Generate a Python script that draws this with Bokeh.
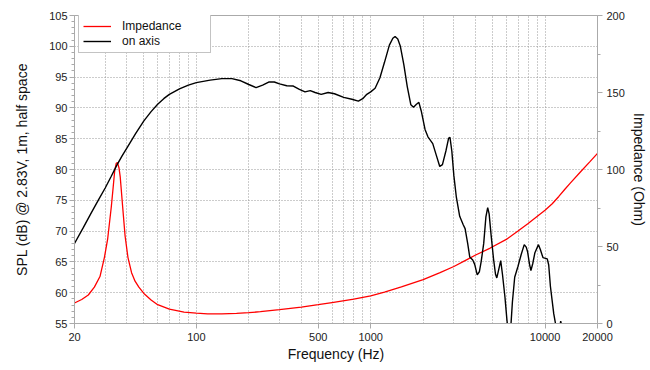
from bokeh.plotting import figure
from bokeh.models import (Range1d, LinearAxis, FixedTicker, SingleIntervalTicker,
                          BasicTickFormatter, Legend, LegendItem)
from bokeh.embed import file_html
from bokeh.resources import INLINE

# ---- data ----
spl_freq = [20, 22.5, 25, 27.5, 30, 32.5, 35, 37.5, 40, 45, 50, 55, 60, 65, 70, 80, 90, 100,
            120, 140, 160, 180, 200, 220, 240, 260, 280, 300, 330, 360, 390, 420, 450, 480,
            520, 570, 620, 700, 780, 850, 900, 950, 1000, 1060, 1130, 1200, 1280, 1340, 1380,
            1430, 1480, 1550, 1620, 1700, 1760, 1830, 1890, 1950, 2050, 2130, 2270, 2380, 2490,
            2580, 2700, 2800, 2850, 2920, 3000, 3100, 3240, 3400, 3480, 3600, 3700, 3850, 3950,
            4085, 4200, 4300, 4450, 4580, 4690, 4780, 4900, 5065, 5200, 5290, 5400, 5570, 5700,
            5890, 6050, 6200, 6350, 6500, 6700, 7000, 7300, 7600, 7800, 7950, 8150, 8300, 8500,
            8750, 9170, 9400, 9730, 10300, 10500, 10740, 11220, 11600, 12000, 12300, 12500, 12800]
spl_db = [68.0, 70.6, 73.0, 75.1, 77.0, 78.9, 80.7, 82.2, 83.5, 85.9, 87.9, 89.4, 90.6, 91.5,
          92.2, 93.1, 93.7, 94.1, 94.5, 94.75, 94.75, 94.4, 93.8, 93.3, 93.7, 94.2, 94.2, 93.9,
          93.6, 93.55, 93.0, 92.6, 92.8, 92.5, 92.2, 92.5, 92.3, 91.7, 91.4, 91.1, 91.5, 92.2,
          92.6, 93.2, 94.9, 97.4, 100.2, 101.3, 101.6, 101.2, 100.0, 97.0, 93.5, 90.5, 90.1,
          90.6, 90.9, 89.5, 86.5, 85.3, 84.2, 82.3, 80.5, 80.8, 83.0, 85.1, 85.2, 83.0, 79.0,
          75.5, 72.4, 71.0, 70.4, 68.0, 65.8, 65.3, 64.6, 62.9, 63.4, 65.0, 68.0, 72.3, 73.8,
          72.8, 69.5, 65.5, 63.0, 62.4, 63.5, 65.2, 63.0, 59.3, 55.5, 53.0, 54.0, 58.5, 62.5,
          64.3, 66.2, 67.8, 67.4, 66.6, 64.6, 63.6, 64.7, 66.5, 67.8, 67.0, 65.7, 65.5, 64.5,
          61.0, 56.6, 54.3, 53.3, 55.4, 54.5, 52.0]

imp_freq = [20, 22, 24, 26, 28, 29.7, 31, 32.5, 33.3, 34, 34.7, 35.3, 36, 36.6, 37.8, 39, 40.5,
            42.5, 44.5, 46.8, 50, 55, 60, 70, 85, 100, 116, 140, 170, 200, 233, 300, 400, 500,
            600, 800, 1000, 1200, 1500, 2000, 2500, 3000, 3500, 4000, 4850, 6000, 7000, 8000,
            9000, 10000, 11000, 12000, 13000, 14000, 16000, 18000, 20000]
imp_ohm = [13.3, 15.6, 18.5, 23.6, 30.5, 43.0, 55.0, 75.5, 88.0, 99.0, 104.0, 104.5, 101.0, 95.0,
           75.5, 57.0, 43.0, 33.0, 27.5, 23.6, 19.5, 15.3, 12.2, 9.3, 7.4, 6.7, 6.3, 6.3, 6.6,
           7.0, 7.7, 9.0, 10.6, 12.2, 13.6, 15.8, 18.0, 20.4, 23.8, 28.5, 33.0, 37.0, 41.0, 44.5,
           49.0, 54.6, 60.1, 65.0, 69.5, 73.5, 77.8, 82.5, 87.2, 91.3, 98.5, 104.8, 110.5]

x_tick_values = [20, 100, 500, 1000, 10000, 20000]
x_grid_values = [30, 40, 50, 60, 70, 80, 90, 100, 200, 300, 400, 500, 600, 700, 800, 900, 1000,
                 2000, 3000, 4000, 5000, 6000, 7000, 8000, 9000, 10000]

FONT = "Liberation Sans"
GRAY = "#aaaaaa"

p = figure(x_axis_type="log", x_range=Range1d(20, 20000), y_range=Range1d(55, 105),
           frame_width=523, frame_height=308,
           min_border_left=74, min_border_right=48, min_border_top=15, min_border_bottom=38,
           output_backend="svg", toolbar_location=None,
           background_fill_color="white", border_fill_color="white",
           outline_line_color=GRAY)
p.extra_y_ranges = {"imp": Range1d(0, 200)}

# grids
p.xgrid.ticker = FixedTicker(ticks=x_grid_values)
p.xgrid.grid_line_color = "#999999"
p.xgrid.grid_line_dash = "1 2"
p.ygrid.ticker = SingleIntervalTicker(interval=5)
p.ygrid.grid_line_color = "#999999"
p.ygrid.grid_line_dash = "1 2"

# x axis
xa = p.xaxis[0]
xa.ticker = FixedTicker(ticks=x_tick_values)
xa.formatter = BasicTickFormatter(use_scientific=False)
xa.axis_label = "Frequency (Hz)"

# left axis
ya = p.yaxis[0]
ya.ticker = SingleIntervalTicker(interval=5, num_minor_ticks=5)
ya.axis_label = "SPL (dB) @ 2.83V, 1m, half space"

# right axis
ra = LinearAxis(y_range_name="imp", axis_label="Impedance (Ohm)",
                ticker=SingleIntervalTicker(interval=50, num_minor_ticks=2))
p.add_layout(ra, "right")

for ax in [xa, ya, ra]:
    ax.axis_line_color = GRAY
    ax.major_tick_line_color = GRAY
    ax.minor_tick_line_color = GRAY if ax is not xa else None
    ax.major_tick_in = 0
    ax.major_tick_out = 5
    ax.minor_tick_in = 0
    ax.minor_tick_out = 3
    ax.major_label_text_font = FONT
    ax.major_label_text_font_size = "11px"
    ax.major_label_text_color = "#222222"
    ax.axis_label_text_font = FONT
    ax.axis_label_text_font_size = "14px"
    ax.axis_label_text_font_style = "normal"
    ax.axis_label_text_color = "#111111"

xa.major_label_standoff = 4
xa.axis_label_standoff = 2
ya.major_label_standoff = 2
ya.axis_label_standoff = 16
ra.major_label_standoff = 4
ra.axis_label_standoff = 3

r_imp = p.line(imp_freq, imp_ohm, y_range_name="imp", line_color="#ff0000", line_width=1.3)
r_spl = p.line(spl_freq, spl_db, line_color="#000000", line_width=1.4)

legend = Legend(items=[LegendItem(label="Impedance", renderers=[r_imp]),
                       LegendItem(label="on axis", renderers=[r_spl])],
                location=(4, 270), margin=0, padding=4, spacing=1,
                label_height=14, glyph_height=14, glyph_width=28, label_standoff=11,
                label_width=84, label_text_font=FONT, label_text_font_size="12px",
                label_text_color="#111111",
                border_line_color="#888888", border_line_width=1,
                background_fill_color="white", background_fill_alpha=1.0)
p.add_layout(legend, "center")

open("out.html", "w").write(file_html(p, INLINE))
